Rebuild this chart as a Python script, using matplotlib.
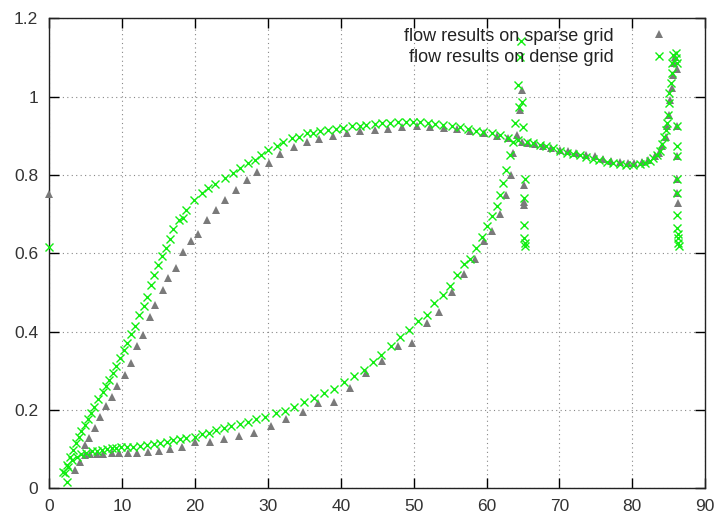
import matplotlib
matplotlib.use('Agg')
import matplotlib.pyplot as plt
from matplotlib.ticker import FormatStrFormatter

plt.rcParams['font.family'] = ['Liberation Sans', 'DejaVu Sans']

# sparse grid results (gray triangles) - upper branch
sparse_up_x = [0, 3.5, 4.2, 4.9, 5.5, 6.3, 7.0, 7.8, 8.6, 9.3, 10.4, 11.2, 12.0, 12.8, 13.8, 14.5,
               15.6, 16.3, 17.4, 18.3, 19.4, 20.4, 21.7, 22.9, 24.1, 25.6, 27.1, 28.5, 30.1, 31.7,
               33.6, 35.3, 37.0, 38.9, 40.8, 42.7, 44.7, 46.5, 48.4, 50.4, 52.3, 54.1, 56.0, 57.8,
               59.7, 61.4, 63.0, 64.8, 65.7, 66.6, 67.8, 68.9, 70.1, 71.2, 72.3, 73.7, 74.9, 76.0,
               77.1, 78.3, 79.4, 80.3, 81.3, 82.2, 83.1, 83.7, 84.1, 84.6, 84.8, 85.0, 85.2, 85.5,
               85.6, 85.7, 85.8, 86.1, 86.1, 86.1, 86.2, 86.2, 86.3]
sparse_up_y = [0.75, 0.047, 0.068, 0.11, 0.128, 0.155, 0.183, 0.21, 0.234, 0.26, 0.288, 0.319, 0.362,
               0.392, 0.437, 0.468, 0.507, 0.536, 0.562, 0.602, 0.632, 0.650, 0.685, 0.711, 0.736,
               0.761, 0.787, 0.807, 0.830, 0.853, 0.871, 0.884, 0.891, 0.900, 0.907, 0.911, 0.915,
               0.917, 0.921, 0.924, 0.921, 0.920, 0.917, 0.913, 0.908, 0.900, 0.894, 0.885, 0.881,
               0.879, 0.873, 0.868, 0.864, 0.860, 0.856, 0.851, 0.847, 0.840, 0.836, 0.832, 0.830,
               0.830, 0.832, 0.839, 0.847, 0.856, 0.874, 0.898, 0.925, 0.953, 0.992, 1.022, 1.056,
               1.086, 1.102, 1.07, 0.925, 0.847, 0.789, 0.753, 0.728]

# sparse grid results - lower branch
sparse_low_x = [4.9, 5.6, 6.5, 7.4, 8.6, 9.6, 10.8, 12.1, 13.5, 15.1, 16.6, 18.2, 20.0, 22.0, 24.0,
                26.0, 28.1, 30.4, 32.5, 34.8, 36.9, 39.1, 41.3, 43.5, 45.7, 47.9, 49.8, 51.8, 53.5,
                55.3, 56.9, 58.4, 59.7, 60.8, 61.8, 62.7, 63.3, 63.7, 64.2, 64.6, 64.9, 65.1, 65.1,
                65.2]
sparse_low_y = [0.085, 0.088, 0.088, 0.088, 0.091, 0.091, 0.091, 0.091, 0.093, 0.096, 0.100, 0.106,
                0.117, 0.117, 0.125, 0.134, 0.142, 0.158, 0.176, 0.195, 0.217, 0.221, 0.257, 0.295,
                0.324, 0.364, 0.372, 0.423, 0.449, 0.502, 0.546, 0.586, 0.630, 0.657, 0.701, 0.749,
                0.800, 0.856, 0.902, 0.966, 1.017, 0.775, 0.730, 0.722]

# dense grid results (green crosses) - upper branch
dense_up_x = [0, 1.9, 2.4, 2.8, 3.2, 3.7, 4.1, 4.4, 4.9, 5.3, 5.7, 6.2, 6.7, 7.3, 7.8, 8.2, 8.8, 9.2,
              9.7, 10.2, 10.6, 11.2, 11.8, 12.3, 13.0, 13.4, 14.0, 14.4, 14.9, 15.4, 16.0, 16.6,
              17.0, 17.8, 18.3, 18.8, 19.8, 20.9, 21.8, 22.7, 24.1, 25.2, 26.2, 27.3, 28.2, 29.1,
              30.0, 31.2, 32.1, 33.3, 34.2, 35.3, 36.2, 37.1, 38.3, 39.4, 40.3, 41.5, 42.6, 43.5,
              44.7, 45.6, 46.7, 47.9, 49.0, 49.9, 50.9, 52.0, 52.9, 54.0, 55.2, 56.3, 57.5, 58.6,
              59.5, 60.7, 61.8, 63.0, 64.3, 65.5, 66.4, 67.3, 68.2, 69.1, 70.1, 71.0, 71.9, 72.8,
              73.7, 74.6, 75.5, 76.5, 77.4, 78.3, 79.2, 80.1, 81.0, 81.7, 82.4, 82.9, 83.4, 83.8,
              84.1, 84.4, 84.6, 84.8, 84.9, 85.0, 85.1, 85.3, 85.4, 85.5, 85.6,
              86.0, 86.0, 86.1, 86.1, 86.1, 86.1, 86.2, 86.2, 86.2, 86.2, 86.3, 86.3, 86.3, 86.4]
dense_up_y = [0.617, 0.042, 0.060, 0.081, 0.098, 0.115, 0.132, 0.145, 0.162, 0.176, 0.192, 0.208,
              0.227, 0.245, 0.261, 0.277, 0.295, 0.312, 0.332, 0.353, 0.372, 0.393, 0.413, 0.443,
              0.466, 0.489, 0.519, 0.545, 0.570, 0.593, 0.613, 0.636, 0.662, 0.685, 0.690, 0.711,
              0.736, 0.753, 0.766, 0.777, 0.792, 0.805, 0.817, 0.830, 0.839, 0.851, 0.864, 0.873,
              0.883, 0.894, 0.898, 0.907, 0.907, 0.911, 0.914, 0.917, 0.920, 0.924, 0.925, 0.928,
              0.931, 0.932, 0.932, 0.934, 0.934, 0.934, 0.934, 0.932, 0.931, 0.928, 0.925, 0.922,
              0.917, 0.911, 0.910, 0.906, 0.902, 0.894, 0.890, 0.885, 0.881, 0.877, 0.873, 0.868,
              0.862, 0.857, 0.854, 0.850, 0.845, 0.840, 0.837, 0.833, 0.830, 0.828, 0.826, 0.826,
              0.828, 0.830, 0.836, 0.843, 0.851, 0.862, 0.879, 0.898, 0.915, 0.932, 0.953, 0.983,
              1.009, 1.034, 1.060, 1.086, 1.107,
              1.110, 1.098, 1.086, 0.925, 0.873, 0.847, 0.790, 0.753, 0.698, 0.664, 0.650, 0.638,
              0.626, 0.618]

# dense grid results - lower branch
dense_low_x = [2.4, 2.2, 2.6, 3.1, 3.8, 4.4, 5.1, 5.8, 6.5, 7.2, 7.9, 8.6, 9.2, 9.9, 10.6, 11.5,
               12.4, 13.4, 14.3, 15.2, 16.1, 17.0, 17.9, 18.8, 20.0, 20.9, 21.9, 22.9, 24.0, 25.0,
               26.1, 27.2, 28.4, 29.6, 31.1, 32.3, 33.6, 34.9, 36.3, 37.7, 39.1, 40.4, 41.8, 43.2,
               44.4, 45.5, 46.9, 48.1, 49.4, 50.6, 51.8, 52.8, 54.0, 55.0, 56.0, 56.9, 57.7, 58.6,
               59.4, 60.0, 60.7, 61.4, 61.8, 62.3, 62.7, 63.2, 63.6, 63.9, 64.4, 64.8, 64.3, 64.6,
               64.7, 65.0, 65.3, 65.2, 65.2, 65.2, 65.3, 65.3]
dense_low_y = [0.017, 0.038, 0.055, 0.072, 0.081, 0.088, 0.091, 0.094, 0.096, 0.098, 0.100, 0.102,
               0.104, 0.106, 0.106, 0.106, 0.108, 0.111, 0.113, 0.116, 0.119, 0.123, 0.125, 0.128,
               0.132, 0.138, 0.142, 0.149, 0.155, 0.159, 0.164, 0.170, 0.176, 0.181, 0.192, 0.198,
               0.208, 0.219, 0.230, 0.243, 0.253, 0.272, 0.287, 0.302, 0.323, 0.340, 0.362, 0.385,
               0.404, 0.428, 0.443, 0.473, 0.494, 0.517, 0.545, 0.573, 0.585, 0.613, 0.641, 0.670,
               0.694, 0.720, 0.749, 0.779, 0.813, 0.851, 0.885, 0.932, 0.973, 0.985, 1.030, 1.102,
               1.141, 0.922, 0.789, 0.741, 0.672, 0.639, 0.627, 0.619]

x_ticks = [0, 10, 20, 30, 40, 50, 60, 70, 80, 90]
y_ticks = [0, 0.2, 0.4, 0.6, 0.8, 1.0, 1.2]

fig = plt.figure(figsize=(7.21, 5.20), dpi=100)
ax = fig.add_axes([0.0684, 0.061, 0.9096, 0.904])

# sparse first, dense on top
ax.plot(sparse_up_x + sparse_low_x, sparse_up_y + sparse_low_y, linestyle='none', marker='^',
        markersize=5.8, markeredgewidth=0, color='#7a7a7a', label='flow results on sparse grid',
        clip_on=False, zorder=3)
ax.plot(dense_up_x + dense_low_x, dense_up_y + dense_low_y, linestyle='none', marker='x',
        markersize=6, markeredgewidth=1.0, color='#11ee11', label='flow results on dense grid',
        clip_on=False, zorder=4)

ax.set_xlim(0, 90)
ax.set_ylim(0, 1.2)
ax.set_xticks(x_ticks)
ax.set_yticks(y_ticks)
ax.yaxis.set_major_formatter(FormatStrFormatter('%g'))

# gnuplot-like look
ax.grid(True, linestyle=(0, (1, 3)), color='#888888', linewidth=0.8)
ax.tick_params(direction='in', length=7, width=1, top=True, right=True,
               labelsize=12.5, labelcolor='#333333', pad=8)
for s in ax.spines.values():
    s.set_linewidth(1.0)
    s.set_color('#222222')

ax.legend(loc='upper right', bbox_to_anchor=(0.9675, 0.995), borderaxespad=0, frameon=False,
          markerfirst=False, fontsize=13, handlelength=2, handletextpad=1.5, labelspacing=0.25,
          labelcolor='#222222')

plt.savefig('out.png', dpi=100)
